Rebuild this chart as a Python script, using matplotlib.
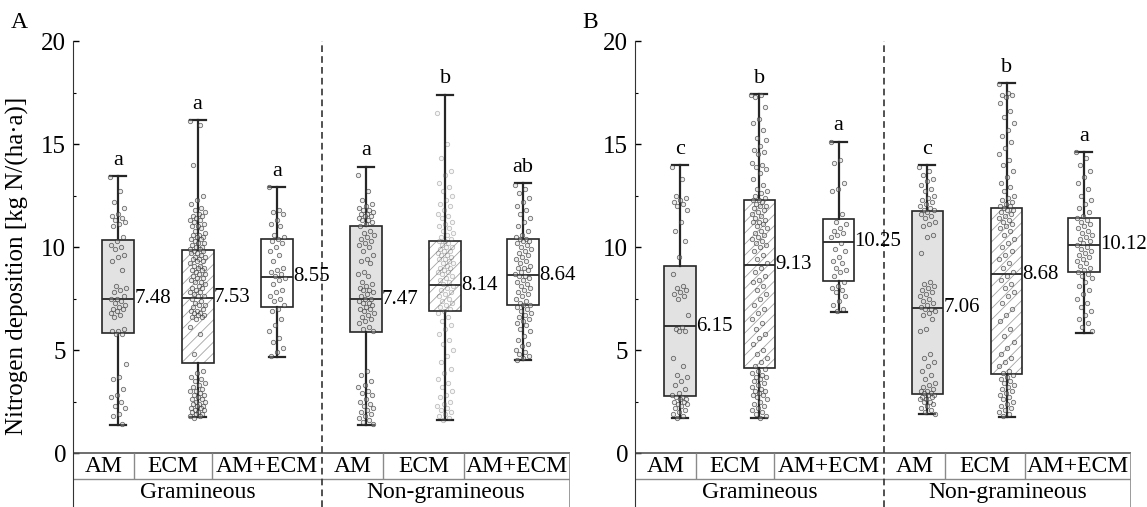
import numpy as np
import matplotlib.pyplot as plt
from matplotlib.patches import Rectangle

plt.rcParams['font.family'] = ['Liberation Serif', 'DejaVu Serif']
plt.rcParams['hatch.linewidth'] = 0.6

# ---------------------------------------------------------------
# Data
# ---------------------------------------------------------------
groups = ["Gramineous", "Non-gramineous"]
types = ["AM", "ECM", "AM+ECM"]

# Panel A box statistics (order: G-AM, G-ECM, G-AM+ECM, NG-AM, NG-ECM, NG-AM+ECM)
a_whislo = [1.36, 1.76, 4.67, 1.36, 1.60, 4.50]
a_q1 = [5.85, 4.38, 7.10, 5.87, 6.89, 7.18]
a_med = [7.48, 7.53, 8.55, 7.47, 8.14, 8.64]
a_q3 = [10.33, 9.84, 10.39, 11.00, 10.28, 10.40]
a_whishi = [13.45, 16.15, 12.92, 13.90, 17.40, 13.10]
a_letters = ["a", "a", "a", "a", "b", "ab"]

# Panel B box statistics
b_whislo = [1.71, 1.71, 6.85, 1.88, 1.76, 5.83]
b_q1 = [2.76, 4.15, 8.34, 2.85, 3.83, 8.79]
b_med = [6.15, 9.13, 10.25, 7.06, 8.68, 10.12]
b_q3 = [9.07, 12.30, 11.38, 11.74, 11.87, 11.43]
b_whishi = [13.97, 17.41, 15.12, 13.97, 17.96, 14.61]
b_letters = ["c", "b", "a", "c", "b", "a"]

# Site values plotted over the boxes
a_g_am = [13.4, 12.7, 12.2, 11.9, 11.6, 11.5, 11.4, 11.3, 11.2, 11.1, 11.0, 10.5, 10.3,
          10.1, 10.0, 9.9, 9.6, 9.5, 9.3, 8.9, 8.1, 8.0, 7.9, 7.8, 7.6, 7.5, 7.5, 7.4,
          7.3, 7.2, 7.1, 7.0, 7.0, 6.9, 6.8, 6.7, 6.6, 6.0, 5.9, 5.9, 5.8, 5.8, 4.3, 3.7,
          3.6, 3.1, 2.8, 2.7, 2.5, 2.3, 2.2, 1.9, 1.8, 1.4]
a_g_ecm = [16.1, 15.9, 14.0, 12.5, 12.3, 12.1, 11.9, 11.8, 11.7, 11.6, 11.5, 11.5, 11.4,
           11.3, 11.3, 11.2, 11.1, 11.0, 11.0, 10.9, 10.8, 10.7, 10.6, 10.6, 10.5, 10.5,
           10.4, 10.4, 10.3, 10.2, 10.2, 10.1, 10.0, 10.0, 9.9, 9.9, 9.8, 9.8, 9.7, 9.7,
           9.6, 9.5, 9.5, 9.4, 9.4, 9.3, 9.3, 9.2, 9.1, 9.1, 9.0, 9.0, 8.9, 8.9, 8.8, 8.7,
           8.7, 8.6, 8.5, 8.5, 8.4, 8.3, 8.3, 8.2, 8.1, 8.0, 8.0, 7.9, 7.8, 7.8, 7.7, 7.6,
           7.6, 7.5, 7.4, 7.3, 7.2, 7.2, 7.1, 7.0, 6.9, 6.9, 6.8, 6.8, 6.7, 6.7, 6.6, 6.6,
           6.5, 6.1, 5.8, 4.8, 4.0, 3.9, 3.7, 3.6, 3.5, 3.4, 3.3, 3.2, 3.1, 3.0, 3.0, 2.9,
           2.8, 2.8, 2.7, 2.6, 2.6, 2.5, 2.5, 2.4, 2.4, 2.3, 2.3, 2.2, 2.2, 2.1, 2.1, 2.0,
           2.0, 1.9, 1.9, 1.8, 1.8, 1.7]
a_g_amecm = [12.9, 11.8, 11.7, 11.6, 11.3, 11.1, 11.0, 10.6, 10.5, 10.4, 10.3, 10.2, 10.0,
             9.8, 9.6, 9.3, 9.0, 8.9, 8.8, 8.7, 8.6, 8.5, 8.4, 8.2, 7.9, 7.8, 7.6, 7.5,
             7.4, 7.2, 7.0, 6.9, 6.5, 6.2, 5.9, 5.6, 5.4, 5.1, 4.9, 4.7]
a_ng_am = [13.5, 12.7, 12.3, 12.1, 12.0, 11.9, 11.8, 11.8, 11.7, 11.6, 11.6, 11.5, 11.5,
           11.4, 11.3, 11.3, 11.2, 11.1, 11.0, 10.8, 10.7, 10.6, 10.5, 10.4, 10.3, 10.2,
           10.1, 10.0, 9.8, 9.6, 9.4, 9.3, 9.2, 8.8, 8.7, 8.6, 8.3, 8.2, 8.1, 8.0, 7.9,
           7.9, 7.8, 7.7, 7.6, 7.5, 7.5, 7.4, 7.3, 7.3, 7.2, 7.1, 7.0, 7.0, 6.9, 6.8, 6.7,
           6.6, 6.5, 6.4, 6.3, 6.1, 6.0, 5.9, 4.0, 3.8, 3.5, 3.3, 3.2, 3.0, 2.9, 2.8, 2.6,
           2.5, 2.4, 2.3, 2.2, 2.1, 2.0, 1.9, 1.8, 1.7, 1.6, 1.5, 1.4]
a_ng_ecm = [16.5, 15.0, 14.3, 13.7, 13.5, 13.1, 12.9, 12.7, 12.5, 12.3, 12.1, 12.0, 11.8,
            11.6, 11.5, 11.4, 11.2, 11.1, 11.0, 10.9, 10.8, 10.7, 10.6, 10.5, 10.4, 10.3,
            10.3, 10.2, 10.1, 10.0, 10.0, 9.9, 9.8, 9.8, 9.7, 9.6, 9.6, 9.5, 9.4, 9.4, 9.3,
            9.2, 9.2, 9.1, 9.0, 9.0, 8.9, 8.8, 8.8, 8.7, 8.6, 8.5, 8.4, 8.3, 8.2, 8.1, 8.0,
            7.9, 7.8, 7.7, 7.6, 7.5, 7.4, 7.3, 7.2, 7.1, 7.0, 6.9, 6.8, 6.6, 6.4, 6.2, 6.0,
            5.8, 5.5, 5.3, 5.0, 4.7, 4.4, 4.1, 3.9, 3.6, 3.4, 3.2, 3.0, 2.8, 2.7, 2.5, 2.4,
            2.3, 2.2, 2.1, 2.0, 1.9, 1.8, 1.7, 1.6]
a_ng_amecm = [13.0, 12.8, 12.6, 12.4, 12.2, 12.0, 11.8, 11.6, 11.4, 11.2, 11.0, 10.8, 10.6,
              10.5, 10.4, 10.4, 10.3, 10.3, 10.2, 10.1, 10.0, 9.9, 9.8, 9.7, 9.6, 9.5, 9.4,
              9.3, 9.2, 9.1, 9.0, 9.0, 8.9, 8.8, 8.7, 8.6, 8.6, 8.5, 8.4, 8.3, 8.2, 8.1,
              8.0, 7.9, 7.8, 7.7, 7.6, 7.5, 7.4, 7.3, 7.2, 7.2, 7.1, 7.0, 6.9, 6.8, 6.7,
              6.6, 6.5, 6.4, 6.3, 6.2, 6.0, 5.9, 5.7, 5.5, 5.3, 5.2, 5.0, 4.9, 4.8, 4.7,
              4.6, 4.5]

b_g_am = [13.9, 13.3, 12.5, 12.4, 12.3, 12.2, 12.1, 12.0, 11.8, 11.2, 10.8, 10.3, 9.5, 8.7,
          8.1, 8.0, 7.9, 7.8, 7.7, 7.6, 7.5, 6.7, 6.1, 6.0, 5.9, 5.9, 4.6, 4.2, 3.8, 3.7,
          3.5, 3.3, 3.1, 2.9, 2.8, 2.7, 2.7, 2.6, 2.6, 2.5, 2.5, 2.4, 2.4, 2.3, 2.2, 2.1,
          2.0, 1.9, 1.8, 1.7]
b_g_ecm = [17.4, 17.4, 17.3, 16.8, 16.2, 16.0, 15.7, 15.3, 15.2, 14.9, 14.7, 14.6, 14.5,
           14.1, 14.0, 13.9, 13.8, 13.6, 13.3, 13.0, 12.8, 12.7, 12.6, 12.5, 12.4, 12.3,
           12.3, 12.2, 12.1, 12.0, 12.0, 11.9, 11.8, 11.7, 11.6, 11.5, 11.4, 11.3, 11.2,
           11.2, 11.1, 11.0, 10.9, 10.8, 10.7, 10.6, 10.5, 10.4, 10.3, 10.2, 10.1, 10.0,
           9.8, 9.6, 9.4, 9.2, 9.0, 8.8, 8.6, 8.4, 8.3, 8.1, 7.9, 7.7, 7.5, 7.2, 7.0, 6.8,
           6.5, 6.3, 6.0, 5.8, 5.6, 5.3, 5.0, 4.8, 4.6, 4.4, 4.2, 4.1, 4.0, 3.9, 3.8, 3.7,
           3.7, 3.6, 3.5, 3.4, 3.3, 3.2, 3.1, 3.0, 3.0, 2.9, 2.8, 2.8, 2.7, 2.6, 2.5, 2.4,
           2.3, 2.2, 2.1, 2.0, 1.9, 1.8, 1.7]
b_g_amecm = [15.1, 14.2, 14.1, 13.1, 12.8, 12.7, 11.6, 11.2, 11.1, 10.9, 10.8, 10.7, 10.6,
             10.5, 10.2, 9.9, 9.8, 9.5, 9.3, 9.2, 9.0, 8.9, 8.8, 8.6, 8.3, 8.1, 8.0, 7.9,
             7.8, 7.6, 7.4, 7.2, 7.0, 6.9]
b_ng_am = [13.9, 13.7, 13.5, 13.3, 13.2, 13.0, 12.8, 12.7, 12.5, 12.4, 12.3, 12.2, 12.1,
           12.0, 11.9, 11.8, 11.8, 11.7, 11.6, 11.5, 11.4, 11.2, 11.1, 11.0, 10.6, 10.5,
           9.7, 8.3, 8.2, 8.1, 8.0, 7.9, 7.8, 7.7, 7.6, 7.5, 7.4, 7.3, 7.2, 7.1, 7.0, 7.0,
           6.9, 6.8, 6.7, 6.5, 6.0, 5.9, 4.8, 4.6, 4.4, 4.2, 4.0, 3.8, 3.6, 3.4, 3.3, 3.2,
           3.1, 3.0, 3.0, 2.9, 2.9, 2.8, 2.8, 2.7, 2.7, 2.6, 2.6, 2.5, 2.5, 2.4, 2.3, 2.2,
           2.1, 2.0, 1.9]
b_ng_ecm = [17.9, 17.5, 17.4, 17.4, 17.3, 17.0, 16.6, 16.3, 16.0, 15.7, 15.4, 15.1, 14.8,
            14.5, 14.2, 14.0, 13.7, 13.4, 13.1, 12.9, 12.7, 12.5, 12.4, 12.3, 12.2, 12.1,
            12.0, 12.0, 11.9, 11.8, 11.8, 11.7, 11.6, 11.5, 11.4, 11.3, 11.2, 11.1, 11.0,
            10.9, 10.8, 10.6, 10.4, 10.2, 10.0, 9.8, 9.6, 9.4, 9.2, 9.0, 8.8, 8.6, 8.4,
            8.2, 8.0, 7.8, 7.6, 7.3, 7.0, 6.7, 6.4, 6.0, 5.7, 5.4, 5.1, 4.8, 4.6, 4.4, 4.2,
            4.0, 3.9, 3.8, 3.7, 3.6, 3.5, 3.4, 3.3, 3.2, 3.1, 3.0, 2.9, 2.8, 2.7, 2.6, 2.5,
            2.4, 2.3, 2.2, 2.1, 2.0, 1.9, 1.8]
b_ng_amecm = [14.6, 14.3, 14.0, 13.7, 13.4, 13.1, 12.8, 12.5, 12.3, 12.1, 11.9, 11.7, 11.5,
              11.4, 11.3, 11.2, 11.1, 11.0, 10.9, 10.8, 10.7, 10.6, 10.5, 10.4, 10.3, 10.2,
              10.1, 10.0, 9.9, 9.8, 9.7, 9.6, 9.5, 9.4, 9.3, 9.2, 9.1, 9.0, 8.9, 8.8, 8.7,
              8.6, 8.5, 8.3, 8.1, 7.9, 7.7, 7.5, 7.3, 7.1, 6.9, 6.7, 6.5, 6.3, 6.1, 5.9]

# ---------------------------------------------------------------
# Layout / style
# ---------------------------------------------------------------
positions = [1.0, 2.0, 3.0, 4.12, 5.12, 6.10]
cell_edges = [0.43, 1.20, 2.18, 3.57, 4.34, 5.35, 6.69]
divider_x = 3.57
x_lim = (0.43, 6.69)
y_lim = (-2.62, 20)
row_line = -1.26
box_width = 0.4
box_faces = ["#e2e2e2", "white", "white"] * 2
box_hatch = [None, "///", None] * 2
EDGE = "#262626"
HATCH = "#a3a3a3"
TABLE = "#8a8a8a"


def draw_panel(ax, whislo, q1, med, q3, whishi, letters, points, pt_alpha):
    stats = []
    for i in range(len(positions)):
        stats.append(dict(whislo=whislo[i], q1=q1[i], med=med[i], q3=q3[i],
                          whishi=whishi[i], fliers=[]))
    bp = ax.bxp(stats, positions=positions, widths=box_width, patch_artist=True,
                showfliers=False, manage_ticks=False, capwidths=0.2,
                boxprops=dict(edgecolor=EDGE, linewidth=1.2),
                medianprops=dict(color=EDGE, linewidth=1.3),
                whiskerprops=dict(color=EDGE, linewidth=1.6),
                capprops=dict(color=EDGE, linewidth=1.6))
    for patch, fc, h, pos, lo, hi in zip(bp["boxes"], box_faces, box_hatch, positions, q1, q3):
        patch.set_facecolor(fc)
        patch.set_zorder(1)
        if h:
            # hatch takes the edge colour, so hatch in light grey and re-draw a dark outline
            patch.set_hatch(h)
            patch.set_edgecolor(HATCH)
            patch.set_linewidth(0)
            ax.add_patch(Rectangle((pos - box_width / 2, lo), box_width, hi - lo, fill=False,
                                   edgecolor=EDGE, linewidth=1.2, zorder=2))

    # jittered site values (deterministic spread)
    for pos, vals, al in zip(positions, points, pt_alpha):
        idx = np.arange(len(vals))
        dx = ((idx * 0.6180339) % 1.0 - 0.5) * 0.2
        ax.scatter(pos + dx, vals, s=10, marker="o", facecolors=(0.8, 0.8, 0.8, al * 0.5),
                   edgecolors=(0.2, 0.2, 0.2, al), linewidths=0.6, zorder=3)

    # median labels and significance letters
    for pos, m, top, let in zip(positions, med, whishi, letters):
        ax.text(pos + 0.2, m, f"{m:.2f}", ha="left", va="center", fontsize=15, zorder=4)
        ax.text(pos, top + 0.3, let, ha="center", va="bottom", fontsize=16)

    # table below the zero line
    ax.hlines(0, x_lim[0], cell_edges[-1], color="#555555", lw=1.2, zorder=2)
    ax.hlines(row_line, x_lim[0], cell_edges[-1], color=TABLE, lw=1.0)
    for xe in cell_edges[1:3] + cell_edges[4:6]:
        ax.vlines(xe, row_line, 0, color=TABLE, lw=1.0)
    ax.vlines(cell_edges[-1], y_lim[0], 0, color=TABLE, lw=1.2)
    ax.vlines(divider_x, y_lim[0], y_lim[1], color="#333333", lw=1.2,
              linestyles=(0, (4, 2.5)), zorder=2)

    for i, t in enumerate(types * 2):
        cx = (cell_edges[i] + cell_edges[i + 1]) / 2
        ax.text(cx, row_line / 2, t, ha="center", va="center", fontsize=17)
    for g, (lo, hi) in zip(groups, [(cell_edges[0], cell_edges[3]), (cell_edges[3], cell_edges[6])]):
        ax.text((lo + hi) / 2, (row_line + y_lim[0]) / 2, g, ha="center", va="center",
                fontsize=17)

    ax.set_xlim(*x_lim)
    ax.set_ylim(*y_lim)
    ax.set_xticks([])
    ax.set_yticks([0, 5, 10, 15, 20])
    ax.set_yticks([2.5, 7.5, 12.5, 17.5], minor=True)
    ax.tick_params(axis="y", which="major", direction="in", length=4, width=1,
                   labelsize=18, pad=5)
    ax.tick_params(axis="y", which="minor", direction="in", length=2.2, width=0.8)
    for s in ["top", "right", "bottom"]:
        ax.spines[s].set_visible(False)
    ax.spines["left"].set_bounds(y_lim[0], 20)
    ax.spines["left"].set_color("#333333")


fig = plt.figure(figsize=(11.47, 5.07), dpi=100)
ax_a = fig.add_axes([73 / 1147, 0.0, 497 / 1147, 466 / 507])
ax_b = fig.add_axes([635 / 1147, 0.0, 496 / 1147, 466 / 507])

draw_panel(ax_a, a_whislo, a_q1, a_med, a_q3, a_whishi, a_letters,
           [a_g_am, a_g_ecm, a_g_amecm, a_ng_am, a_ng_ecm, a_ng_amecm],
           [0.7, 0.7, 0.7, 0.7, 0.3, 0.7])
draw_panel(ax_b, b_whislo, b_q1, b_med, b_q3, b_whishi, b_letters,
           [b_g_am, b_g_ecm, b_g_amecm, b_ng_am, b_ng_ecm, b_ng_amecm],
           [0.7, 0.7, 0.7, 0.7, 0.7, 0.7])

fig.text(11 / 1147, 1 - 22 / 507, "A", fontsize=17, va="center", ha="left")
fig.text(582 / 1147, 1 - 22 / 507, "B", fontsize=17, va="center", ha="left")
fig.text(17 / 1147, 0.475, "Nitrogen deposition [kg N/(ha\u00b7a)]", rotation=90,
         ha="center", va="center", fontsize=18)

fig.savefig("out.png", dpi=100)
